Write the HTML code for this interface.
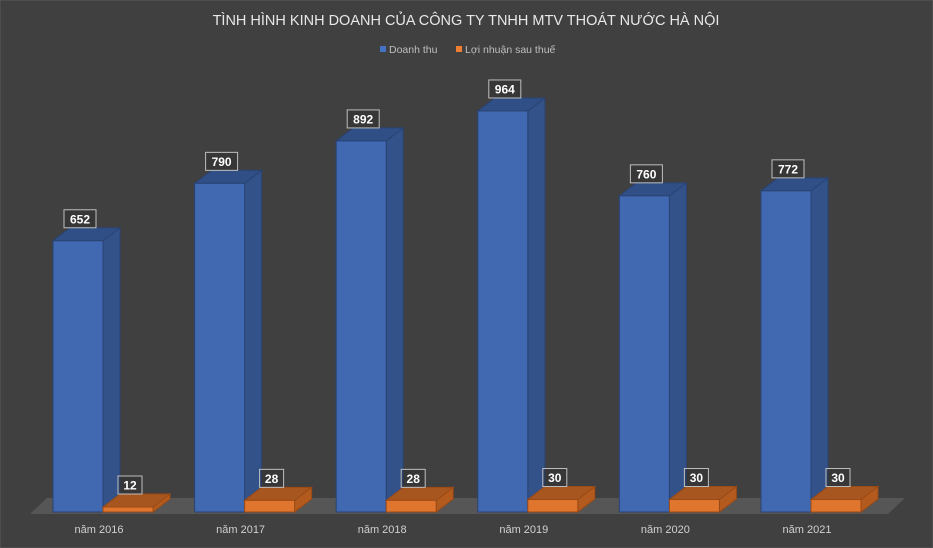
<!DOCTYPE html>
<html><head><meta charset="utf-8"><style>
html,body{margin:0;padding:0;background:#404040;}
svg{display:block;font-family:"Liberation Sans","DejaVu Sans",sans-serif;}
</style></head><body>
<svg id="chart" width="933" height="548" viewBox="0 0 933 548">
<rect x="0" y="0" width="933" height="548" fill="#404040" stroke="#5a5a5a"/>
<text x="466" y="25" text-anchor="middle" fill="#e8e8e8" font-size="14.5">TÌNH HÌNH KINH DOANH CỦA CÔNG TY TNHH MTV THOÁT NƯỚC HÀ NỘI</text>
<g>
<rect x="380" y="46" width="6" height="6" fill="#4472c4"/>
<text x="389" y="53" fill="#bfbfbf" font-size="10.5">Doanh thu</text>
<rect x="456" y="46" width="6" height="6" fill="#ed7d31"/>
<text x="465" y="53" fill="#bfbfbf" font-size="10.5">Lợi nhuận sau thuế</text>
</g>
<polygon points="30,514 888,514 905,498 47,498" fill="#565656"/>
<g id="bars"></g>
<g id="labels"></g>
</svg>
<script>
const categories = ["năm 2016","năm 2017","năm 2018","năm 2019","năm 2020","năm 2021"];
const revenue = [652,790,892,964,760,772];
const profit = [12,28,28,30,30,30];

const NS = "http://www.w3.org/2000/svg";
const baseY = 512, scale = 0.416, x0 = 53, step = 141.6, bw = 50, dx = 17, dy = 13;
function xPos(i){ return x0 + i*step; }
function yPos(v){ return baseY - v*scale; }
const bars = document.getElementById("bars");
const labels = document.getElementById("labels");
function mk(tag, attrs, parent){ const e = document.createElementNS(NS, tag); for (const k in attrs) e.setAttribute(k, attrs[k]); parent.appendChild(e); return e; }

function drawBar(x, v, front, side, top, stroke, name){
  const g = mk("g", {}, bars);
  
  
  const yt = yPos(v);
  mk("polygon", {points:`${x+bw},${baseY} ${x+bw+dx},${baseY-dy} ${x+bw+dx},${yt-dy} ${x+bw},${yt}`, fill:side, stroke:stroke, "stroke-width":1}, g);
  mk("polygon", {points:`${x},${yt} ${x+dx},${yt-dy} ${x+bw+dx},${yt-dy} ${x+bw},${yt}`, fill:top, stroke:stroke, "stroke-width":1}, g);
  mk("rect", {x:x, y:yt, width:bw, height:baseY-yt, fill:front, stroke:stroke, "stroke-width":1}, g);
  // label
  const lg = mk("g", {}, labels);
  
  
  const s = String(v);
  const w = s.length*8 + 8;
  const cx = x + bw/2 + 2, ly = yt - dy - 9;
  mk("rect", {x:cx-w/2, y:ly-9, width:w, height:18, fill:"rgba(40,40,40,0.35)", stroke:"#bfbfbf", "stroke-width":1}, lg);
  const t = mk("text", {x:cx, y:ly+4.5, "text-anchor":"middle", fill:"#ffffff", "font-size":12, "font-weight":"bold"}, lg);
  t.textContent = s;
}
categories.forEach((c,i)=>{
  const x = xPos(i);
  drawBar(x, revenue[i], "#4069b2", "#34528a", "#2f4f86", "#2a4373", "bar-revenue-"+(2016+i));
  drawBar(x+bw, profit[i], "#e0752e", "#b35a1f", "#a8561f", "#9a4a15", "bar-profit-"+(2016+i));
  const t = mk("text", {x:x+bw-4, y:533, "text-anchor":"middle", fill:"#d0d0d0", "font-size":11}, labels);
  
  
  t.textContent = c;
});
</script>
</body></html>
